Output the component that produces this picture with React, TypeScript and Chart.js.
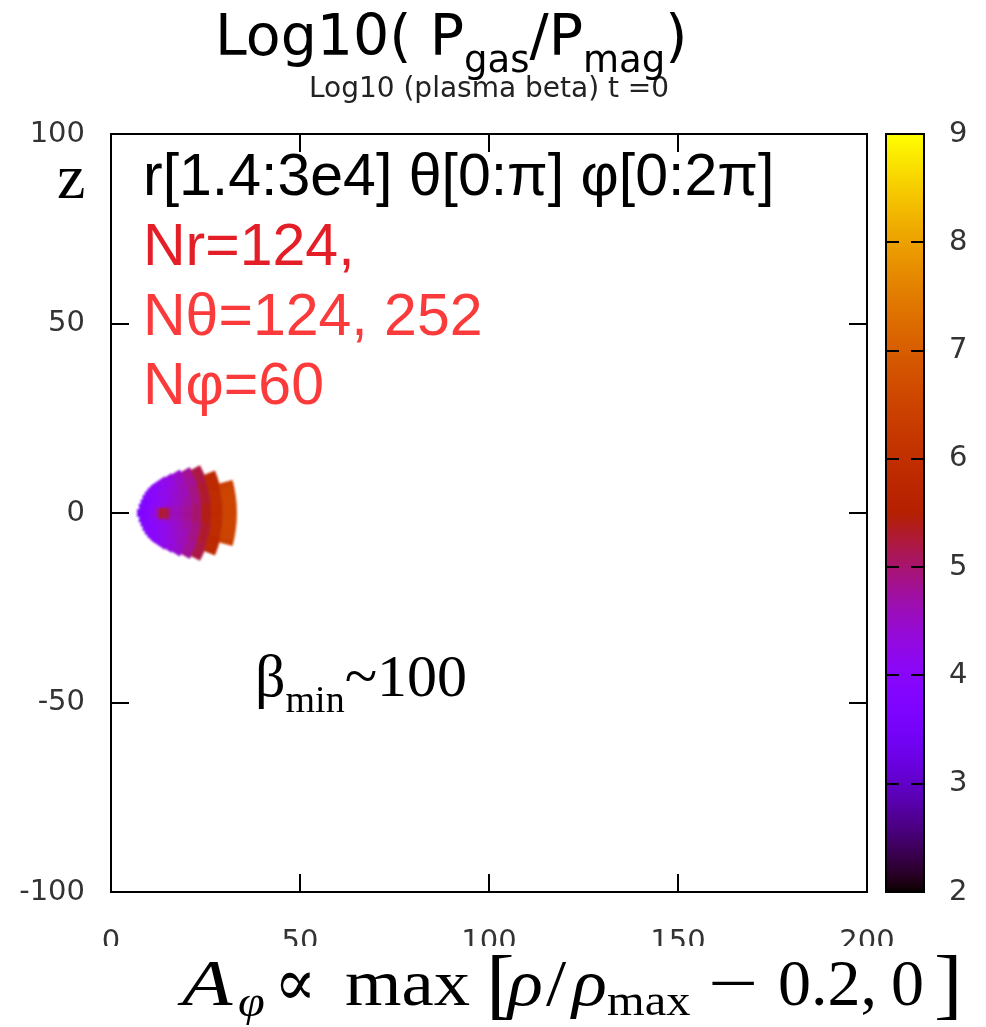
import React, { useEffect, useRef } from "react";
import { Chart, registerables } from "chart.js";

Chart.register(...registerables);

const W = 986;
const H = 1027;

// Axis ticks
const xTicks = [0, 50, 100, 150, 200];
const zTicks = [-100, -50, 0, 50, 100];
const cbTicks = [2, 3, 4, 5, 6, 7, 8, 9];
const cbMin = 2;
const cbMax = 9;

// Spherical shells of the initial torus (radius edges)
const shellEdges = [7.0, 7.7, 8.5, 9.4, 10.4, 11.5, 12.7, 14.0, 15.5, 17.1, 19.0, 21.4, 24.0, 26.6, 29.6, 33.2];
// Upper / lower elevation limits of each shell, degrees from the equator
const shellTop = [7, 17, 23, 28, 31, 33, 34, 34, 34, 33, 32, 30, 28, 22, 15];
const shellBottom = [-7, -17, -23, -28, -31, -33, -34, -34, -34, -33, -32, -30, -28, -22, -15];
// Elevation bins, degrees
const binEdges = [-36, -30, -24, -18, -12, -6, 0, 6, 12, 18, 24, 30, 36];
// log10(plasma beta): one row per shell, one column per elevation bin
const logBeta: (number | null)[][] = [
  [null, null, null, null, 3.6, 3.6, 3.6, 3.6, null, null, null, null],
  [null, null, null, 3.6, 3.7, 3.7, 3.7, 3.7, 3.6, null, null, null],
  [null, null, 3.7, 3.7, 3.8, 3.8, 3.8, 3.8, 3.7, 3.7, null, null],
  [null, 3.8, 3.8, 3.8, 3.9, 3.9, 3.9, 3.9, 3.8, 3.8, 3.8, null],
  [3.9, 3.9, 3.9, 3.9, 4.0, 4.1, 4.1, 4.0, 3.9, 3.9, 3.9, 3.9],
  [4.0, 4.0, 4.0, 4.0, 4.1, 4.5, 4.5, 4.1, 4.0, 4.0, 4.0, 4.0],
  [4.0, 4.0, 4.1, 4.1, 4.2, 5.3, 5.3, 4.2, 4.1, 4.1, 4.0, 4.0],
  [4.1, 4.1, 4.2, 4.2, 4.3, 5.2, 5.2, 4.3, 4.2, 4.2, 4.1, 4.1],
  [4.2, 4.2, 4.3, 4.3, 4.4, 4.6, 4.6, 4.4, 4.3, 4.3, 4.2, 4.2],
  [4.3, 4.3, 4.4, 4.5, 4.5, 4.6, 4.6, 4.5, 4.5, 4.4, 4.3, 4.3],
  [4.4, 4.5, 4.6, 4.6, 4.7, 4.8, 4.8, 4.7, 4.6, 4.6, 4.5, 4.4],
  [4.7, 4.8, 4.8, 4.9, 4.9, 5.0, 5.0, 4.9, 4.9, 4.8, 4.8, 4.7],
  [null, 5.2, 5.2, 5.3, 5.3, 5.4, 5.4, 5.3, 5.3, 5.2, 5.2, null],
  [null, null, 5.8, 5.8, 5.9, 5.9, 5.9, 5.9, 5.8, 5.8, null, null],
  [null, null, null, 6.4, 6.5, 6.5, 6.5, 6.5, 6.4, null, null, null],
];

type Cell = { x: number; y: number; r0: number; r1: number; a0: number; a1: number; v: number };

const cells: Cell[] = [];
logBeta.forEach((row, i) =>
  row.forEach((v, j) => {
    if (v == null) return;
    const a0 = Math.max(binEdges[j], shellBottom[i]);
    const a1 = Math.min(binEdges[j + 1], shellTop[i]);
    if (a1 <= a0) return;
    const r0 = shellEdges[i];
    const r1 = shellEdges[i + 1];
    const rm = (r0 + r1) / 2;
    const am = ((a0 + a1) / 2) * (Math.PI / 180);
    cells.push({ x: rm * Math.cos(am), y: rm * Math.sin(am), r0, r1, a0, a1, v });
  })
);

// gnuplot's default pm3d palette (rgbformulae 7,5,15)
function palette(v: number) {
  const t = Math.min(1, Math.max(0, (v - cbMin) / (cbMax - cbMin)));
  const r = Math.sqrt(t);
  const g = t * t * t;
  const b = Math.max(0, Math.sin(2 * Math.PI * t));
  return `rgb(${Math.round(r * 255)},${Math.round(g * 255)},${Math.round(b * 255)})`;
}

const SANS = '"DejaVu Sans", sans-serif';
const ARIAL = '"Liberation Sans", Arial, sans-serif';
const SERIF = '"Liberation Serif", "DejaVu Serif", serif';

const polarCells = {
  id: "polarCells",
  beforeDatasetsDraw(chart: any) {
    const { ctx, chartArea, scales } = chart;
    const xs = scales.x;
    const ys = scales.y;
    const data = chart.data.datasets[0].data as Cell[];
    const off = document.createElement("canvas");
    off.width = chart.width;
    off.height = chart.height;
    const o = off.getContext("2d")!;
    const px = (r: number, a: number) => {
      const rad = (a * Math.PI) / 180;
      return [xs.getPixelForValue(r * Math.cos(rad)), ys.getPixelForValue(r * Math.sin(rad))];
    };
    for (const c of data) {
      const col = palette(c.v);
      const n = Math.max(2, Math.ceil(c.a1 - c.a0));
      o.beginPath();
      for (let k = 0; k <= n; k++) {
        const [X, Y] = px(c.r1, c.a0 + ((c.a1 - c.a0) * k) / n);
        if (k === 0) o.moveTo(X, Y);
        else o.lineTo(X, Y);
      }
      for (let k = n; k >= 0; k--) {
        const [X, Y] = px(c.r0, c.a0 + ((c.a1 - c.a0) * k) / n);
        o.lineTo(X, Y);
      }
      o.closePath();
      o.fillStyle = col;
      o.fill();
      o.strokeStyle = col;
      o.lineWidth = 0.8;
      o.stroke();
    }
    ctx.save();
    ctx.beginPath();
    ctx.rect(chartArea.left, chartArea.top, chartArea.width, chartArea.height);
    ctx.clip();
    ctx.filter = "blur(1.2px)";
    ctx.drawImage(off, 0, 0);
    ctx.restore();
  },
};

function runs(ctx: CanvasRenderingContext2D, x: number, parts: { t: string; f: string; b: number }[]) {
  let cx = x;
  for (const p of parts) {
    ctx.font = p.f;
    ctx.fillText(p.t, cx, p.b);
    cx += ctx.measureText(p.t).width;
  }
}

const frameAndText = {
  id: "frameAndText",
  afterDraw(chart: any) {
    const { ctx, chartArea: a, scales } = chart;
    const xs = scales.x;
    const ys = scales.y;
    const tick = 18;
    ctx.save();
    ctx.strokeStyle = "#000";
    ctx.lineWidth = 2;
    ctx.beginPath();
    for (const v of xTicks) {
      const X = Math.round(xs.getPixelForValue(v));
      ctx.moveTo(X, a.bottom);
      ctx.lineTo(X, a.bottom - tick);
      ctx.moveTo(X, a.top);
      ctx.lineTo(X, a.top + tick);
    }
    for (const v of zTicks) {
      const Y = Math.round(ys.getPixelForValue(v));
      ctx.moveTo(a.left, Y);
      ctx.lineTo(a.left + tick, Y);
      ctx.moveTo(a.right, Y);
      ctx.lineTo(a.right - tick, Y);
    }
    ctx.stroke();
    ctx.strokeRect(a.left, a.top, a.width, a.height);

    // band holding the x-axis formula
    ctx.fillStyle = "#fff";
    ctx.fillRect(0, 946, W, H - 946);

    ctx.textBaseline = "alphabetic";
    ctx.textAlign = "left";

    // subtitle and title
    ctx.fillStyle = "#222";
    ctx.font = `28px ${SANS}`;
    ctx.textAlign = "center";
    ctx.fillText("Log10 (plasma beta) t =0", 489, 97);
    ctx.textAlign = "left";
    ctx.fillStyle = "#000";
    runs(ctx, 215, [
      { t: "Log10( P", f: `57px ${SANS}`, b: 55 },
      { t: "gas", f: `37px ${SANS}`, b: 72 },
      { t: "/P", f: `57px ${SANS}`, b: 55 },
      { t: "mag", f: `37px ${SANS}`, b: 72 },
      { t: ")", f: `57px ${SANS}`, b: 55 },
    ]);

    // grid description
    ctx.font = `59px ${ARIAL}`;
    ctx.fillStyle = "#000";
    ctx.fillText("r[1.4:3e4] θ[0:π] φ[0:2π]", 143, 195);
    ctx.fillStyle = "#e41e26";
    ctx.fillText("Nr=124,", 143, 265);
    ctx.fillStyle = "#fb3b3b";
    ctx.fillText("Nθ=124, 252", 143, 335);
    ctx.fillText("Nφ=60", 143, 404);

    // z label
    ctx.fillStyle = "#000";
    ctx.font = `64px ${SERIF}`;
    ctx.fillText("z", 57, 198);

    // beta_min annotation
    runs(ctx, 255, [
      { t: "β", f: `60px ${SERIF}`, b: 696 },
      { t: "min", f: `38px ${SERIF}`, b: 712 },
      { t: "~100", f: `60px ${SERIF}`, b: 696 },
    ]);

    // x-axis formula
    const big = `66px ${SERIF}`;
    const bigI = `italic 66px ${SERIF}`;
    const sub = `44px ${SERIF}`;
    const subI = `italic 44px ${SERIF}`;
    const put = (t: string, f: string, x: number, b: number, sx = 1.1) => {
      ctx.save();
      ctx.translate(x, b);
      ctx.scale(sx, 1);
      ctx.font = f;
      ctx.fillText(t, 0, 0);
      ctx.restore();
    };
    put("A", bigI, 182, 1005, 1.25);
    put("φ", subI, 238, 1016);
    put("∝", big, 274, 1005, 0.95);
    put("max", big, 345, 1005);
    put("[", `78px ${SERIF}`, 486, 1010);
    put("ρ", bigI, 508, 1005);
    put("/", big, 546, 1005);
    put("ρ", bigI, 572, 1005);
    put("max", sub, 607, 1015);
    put("−", big, 708, 1005, 1.35);
    put("0.2,", big, 778, 1005, 1.0);
    put("0", big, 891, 1005, 1.0);
    put("]", `78px ${SERIF}`, 934, 1010);
    ctx.restore();
  },
};

const colorBox = {
  id: "colorBox",
  beforeDatasetsDraw(chart: any) {
    const { ctx, chartArea: a, scales } = chart;
    const ys = scales.y;
    ctx.save();
    const yTop = ys.getPixelForValue(cbMax);
    const yBot = ys.getPixelForValue(cbMin);
    const grad = ctx.createLinearGradient(0, yBot, 0, yTop);
    const n = 140;
    for (let k = 0; k <= n; k++) {
      grad.addColorStop(k / n, palette(cbMin + ((cbMax - cbMin) * k) / n));
    }
    ctx.fillStyle = grad;
    ctx.fillRect(a.left, yTop, a.width, yBot - yTop);
    ctx.strokeStyle = "#000";
    ctx.lineWidth = 2;
    ctx.beginPath();
    for (const v of cbTicks) {
      if (v === cbMin || v === cbMax) continue;
      const Y = Math.round(ys.getPixelForValue(v));
      ctx.moveTo(a.left, Y);
      ctx.lineTo(a.left + 13, Y);
      ctx.moveTo(a.right, Y);
      ctx.lineTo(a.right - 13, Y);
    }
    ctx.stroke();
    ctx.strokeRect(a.left, a.top, a.width, a.height);
    ctx.restore();
  },
};

export default function App() {
  const mainRef = useRef<HTMLCanvasElement>(null);
  const barRef = useRef<HTMLCanvasElement>(null);

  useEffect(() => {
    const tickFont = { family: SANS, size: 29 };
    const main = new Chart(mainRef.current!, {
      type: "scatter",
      data: { datasets: [{ data: cells as any, pointRadius: 0 }] },
      options: {
        responsive: false,
        animation: false,
        events: [],
        layout: { padding: { top: 134, right: 119, left: 0, bottom: 0 } },
        plugins: { legend: { display: false }, tooltip: { enabled: false } },
        scales: {
          x: {
            type: "linear",
            min: 0,
            max: 200,
            grid: { display: false, drawTicks: false },
            border: { display: false },
            afterBuildTicks: (s: any) => {
              s.ticks = xTicks.map((value) => ({ value }));
            },
            afterFit: (s: any) => {
              s.height = H - 892;
            },
            ticks: { font: tickFont, color: "#333", padding: 33, maxRotation: 0, autoSkip: false },
          },
          y: {
            type: "linear",
            min: -100,
            max: 100,
            grid: { display: false, drawTicks: false },
            border: { display: false },
            afterBuildTicks: (s: any) => {
              s.ticks = zTicks.map((value) => ({ value }));
            },
            afterFit: (s: any) => {
              s.width = 111;
            },
            ticks: { font: tickFont, color: "#333", padding: 26, autoSkip: false },
          },
        },
      },
      plugins: [polarCells, frameAndText],
    });

    const bar = new Chart(barRef.current!, {
      type: "scatter",
      data: { datasets: [] },
      options: {
        responsive: false,
        animation: false,
        events: [],
        layout: { padding: { top: 134, right: 0, left: 886, bottom: H - 892 } },
        plugins: { legend: { display: false }, tooltip: { enabled: false } },
        scales: {
          x: { type: "linear", display: false, min: 0, max: 1 },
          y: {
            type: "linear",
            position: "right",
            min: cbMin,
            max: cbMax,
            grid: { display: false, drawTicks: false },
            border: { display: false },
            afterBuildTicks: (s: any) => {
              s.ticks = cbTicks.map((value) => ({ value }));
            },
            afterFit: (s: any) => {
              s.width = W - 924;
            },
            ticks: { font: tickFont, color: "#333", padding: 25, autoSkip: false },
          },
        },
      },
      plugins: [colorBox],
    });

    return () => {
      main.destroy();
      bar.destroy();
    };
  }, []);

  return (
    <div style={{ position: "absolute", left: 0, top: 0, width: W, height: H, background: "#fff" }}>
      <canvas ref={mainRef} width={W} height={H} style={{ position: "absolute", left: 0, top: 0 }} />
      <canvas ref={barRef} width={W} height={H} style={{ position: "absolute", left: 0, top: 0 }} />
    </div>
  );
}
